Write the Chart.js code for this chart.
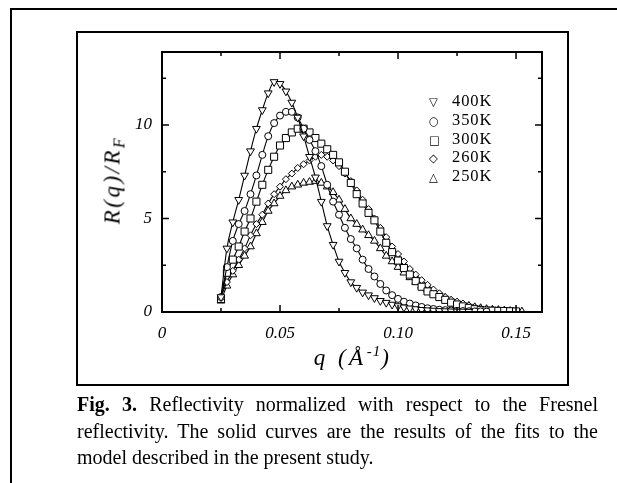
<!DOCTYPE html>
<html>
<head>
<meta charset="utf-8">
<script src="https://cdn.jsdelivr.net/npm/chart.js@4"></script>
<style>
html, body { margin: 0; padding: 0; background: #fff; }
body { width: 617px; height: 483px; position: relative; overflow: hidden; font-family: "Liberation Serif", serif; color: #000; }
#outerTop { position: absolute; left: 10px; top: 8px; width: 607px; height: 0; border-top: 2px solid #000; }
#outerLeft { position: absolute; left: 10px; top: 8px; width: 0; height: 475px; border-left: 2px solid #000; }
#box { position: absolute; left: 76px; top: 31px; width: 489px; height: 351px; border: 2px solid #000; }
#chart { position: absolute; left: 0; top: 0; }
#ytitle { position: absolute; left: 114px; top: 180px; transform: translate(-50%, -50%) rotate(-90deg); font-style: italic; font-size: 23px; white-space: nowrap; letter-spacing: 2.5px; }
#ytitle sub { font-size: 16px; vertical-align: -5px; }
#xtitle { position: absolute; left: 353px; top: 357px; transform: translate(-50%, -50%); font-style: italic; font-size: 23px; white-space: nowrap; letter-spacing: 3.5px; }
#xtitle sup { font-size: 15px; vertical-align: 9px; letter-spacing: 1px; }
#legend { position: absolute; left: 429px; top: 92px; font-size: 16.5px; letter-spacing: 0.9px; }
#legend div { height: 18.8px; line-height: 18.8px; white-space: nowrap; }
#legend span.s { display: inline-block; width: 23px; font-family: "DejaVu Sans", sans-serif; font-size: 11.5px; text-align: left; }
#caption { position: absolute; left: 77px; top: 391px; width: 521px; font-size: 20px; line-height: 26.5px; }
#caption .j { text-align: justify; text-align-last: justify; }
</style>
</head>
<body>
<div id="outerTop"></div>
<div id="outerLeft"></div>
<div id="box"></div>
<canvas id="chart" width="617" height="483"></canvas>
<div id="ytitle">R(q)/R<sub>F</sub></div>
<div id="xtitle">q (Å<sup>-1</sup>)</div>
<div id="legend">
  <div><span class="s">▽</span>400K</div>
  <div><span class="s">○</span>350K</div>
  <div><span class="s">□</span>300K</div>
  <div><span class="s">◇</span>260K</div>
  <div><span class="s">△</span>250K</div>
</div>
<div id="caption">
  <div class="j"><b>Fig. 3.</b> Reflectivity normalized with respect to the Fresnel</div>
  <div class="j">reflectivity. The solid curves are the results of the fits to the</div>
  <div>model described in the present study.</div>
</div>
<script>
// q values (1/Å), shared by all series
const qGrid = [0.025, 0.0275, 0.03, 0.0325, 0.035, 0.0375, 0.04, 0.0425, 0.045, 0.0475,
  0.05, 0.0525, 0.055, 0.0575, 0.06, 0.0625, 0.065, 0.0675, 0.07, 0.0725,
  0.075, 0.0775, 0.08, 0.0825, 0.085, 0.0875, 0.09, 0.0925, 0.095, 0.0975,
  0.1, 0.1025, 0.105, 0.1075, 0.11, 0.1125, 0.115, 0.1175, 0.12, 0.1225,
  0.125, 0.1275, 0.13, 0.1325, 0.135, 0.1375, 0.14, 0.1425, 0.145, 0.1475,
  0.15, 0.1525, 0.155];

// R(q)/R_F
const r400 = [0.8, 3.4, 4.8, 6.0, 7.3, 8.6, 9.8, 10.8, 11.7, 12.3,
  12.2, 11.8, 11.2, 10.4, 9.4, 8.3, 7.2, 5.9, 4.6, 3.6,
  2.7, 2.1, 1.6, 1.3, 1.05, 0.9, 0.75, 0.6, 0.5, 0.4,
  0.32, 0.25, 0.2, 0.16, 0.12, 0.1, 0.08, 0.06, 0.05, 0.04,
  0.03, 0.03, 0.02];
const r350 = [0.8, 2.4, 3.8, 4.7, 5.4, 6.3, 7.3, 8.4, 9.4, 10.1,
  10.5, 10.7, 10.7, 10.4, 9.8, 9.2, 8.6, 7.8, 6.8, 5.9,
  5.2, 4.5, 3.9, 3.4, 2.8, 2.3, 1.9, 1.5, 1.15, 0.9,
  0.7, 0.55, 0.45, 0.35, 0.27, 0.2, 0.16, 0.12, 0.1, 0.08,
  0.06, 0.05, 0.04, 0.03, 0.03, 0.02];
const r300 = [0.7, 2.1, 2.8, 3.5, 4.3, 5.0, 5.9, 6.8, 7.6, 8.3,
  8.9, 9.3, 9.6, 9.8, 9.8, 9.6, 9.3, 9.0, 8.7, 8.4,
  8.0, 7.5, 6.9, 6.3, 5.8, 5.3, 4.9, 4.3, 3.7, 3.2,
  2.75, 2.35, 2.0, 1.65, 1.35, 1.1, 0.95, 0.8, 0.65, 0.5,
  0.4, 0.3, 0.22, 0.15, 0.1, 0.08, 0.07, 0.06, 0.05, 0.04,
  0.03];
const r260 = [0.8, 1.6, 2.2, 2.8, 3.4, 4.1, 4.7, 5.2, 5.8, 6.3,
  6.7, 7.1, 7.4, 7.7, 7.9, 8.1, 8.3, 8.4, 8.3, 8.1,
  7.8, 7.4, 7.0, 6.5, 6.0, 5.5, 5.0, 4.5, 4.0, 3.5,
  3.1, 2.7, 2.3, 2.0, 1.7, 1.45, 1.2, 1.0, 0.8, 0.65,
  0.55, 0.45, 0.35, 0.27, 0.2, 0.16, 0.12, 0.09, 0.07, 0.05,
  0.04];
const r250 = [0.6, 1.4, 2.0, 2.5, 3.0, 3.5, 4.2, 4.8, 5.4, 5.8,
  6.2, 6.5, 6.7, 6.8, 6.9, 6.95, 7.0, 6.9, 6.7, 6.4,
  6.0, 5.5, 5.0, 4.7, 4.4, 4.1, 3.8, 3.4, 3.0, 2.7,
  2.4, 2.1, 1.85, 1.6, 1.4, 1.2, 1.05, 0.9, 0.75, 0.6,
  0.5, 0.4, 0.32, 0.25, 0.2, 0.15, 0.12, 0.1, 0.07, 0.05,
  0.03, 0.02];

const xTickValues = [0, 0.025, 0.05, 0.075, 0.1, 0.125, 0.15];
const xTickLabels = ['0', '', '0.05', '', '0.10', '', '0.15'];
const yTickValues = [0, 2.5, 5, 7.5, 10, 12.5];
const yTickLabels = ['0', '', '5', '', '10', ''];

function pts(vals) {
  return vals.map((v, i) => ({ x: qGrid[i], y: v }));
}

function series(label, vals, style, radius, rotation) {
  return {
    label: label,
    data: pts(vals),
    borderColor: '#000',
    borderWidth: 1.1,
    cubicInterpolationMode: 'monotone',
    pointStyle: style,
    pointRotation: rotation || 0,
    pointRadius: radius,
    pointBackgroundColor: '#fff',
    pointBorderColor: '#000',
    pointBorderWidth: 1
  };
}

const frameTicks = {
  id: 'frameTicks',
  afterDraw(chart) {
    const ctx = chart.ctx;
    const a = chart.chartArea;
    const xs = chart.scales.x, ys = chart.scales.y;
    ctx.save();
    ctx.strokeStyle = '#000';
    ctx.lineWidth = 2;
    ctx.strokeRect(a.left, a.top, a.right - a.left, a.bottom - a.top);
    ctx.lineWidth = 1.5;
    ctx.beginPath();
    xTickValues.forEach((v, i) => {
      const px = xs.getPixelForValue(v);
      const len = xTickLabels[i] ? 7 : 4;
      ctx.moveTo(px, a.bottom); ctx.lineTo(px, a.bottom - len);
      ctx.moveTo(px, a.top); ctx.lineTo(px, a.top + len);
    });
    yTickValues.forEach((v, i) => {
      const py = ys.getPixelForValue(v);
      const len = yTickLabels[i] ? 7 : 4;
      ctx.moveTo(a.left, py); ctx.lineTo(a.left + len, py);
      ctx.moveTo(a.right, py); ctx.lineTo(a.right - len, py);
    });
    ctx.stroke();
    ctx.restore();
  }
};

const tickFont = { family: '"Liberation Serif", serif', style: 'italic', size: 17 };

new Chart(document.getElementById('chart'), {
  type: 'line',
  data: {
    datasets: [
      series('400K', r400, 'triangle', 4.5, 180),
      series('350K', r350, 'circle', 3.5),
      series('300K', r300, 'rect', 5),
      series('260K', r260, 'rectRot', 3.5),
      series('250K', r250, 'triangle', 4.5)
    ]
  },
  options: {
    responsive: false,
    animation: false,
    layout: { padding: { left: 0, right: 75, top: 52, bottom: 0 } },
    plugins: { legend: { display: false }, tooltip: { enabled: false } },
    scales: {
      x: {
        type: 'linear',
        min: 0,
        max: 0.161,
        afterBuildTicks: s => { s.ticks = xTickValues.map(v => ({ value: v })); },
        afterFit: s => { s.height = 171; },
        grid: { display: false },
        border: { display: false },
        ticks: {
          color: '#000',
          font: tickFont,
          padding: 3,
          maxRotation: 0,
          autoSkip: false,
          callback: (v, i) => xTickLabels[i]
        }
      },
      y: {
        min: 0,
        max: 13.9,
        afterBuildTicks: s => { s.ticks = yTickValues.map(v => ({ value: v })); },
        afterFit: s => { s.width = 162; },
        grid: { display: false },
        border: { display: false },
        ticks: {
          color: '#000',
          font: tickFont,
          padding: 2,
          autoSkip: false,
          callback: (v, i) => yTickLabels[i]
        }
      }
    }
  },
  plugins: [frameTicks]
});
</script>
</body>
</html>
